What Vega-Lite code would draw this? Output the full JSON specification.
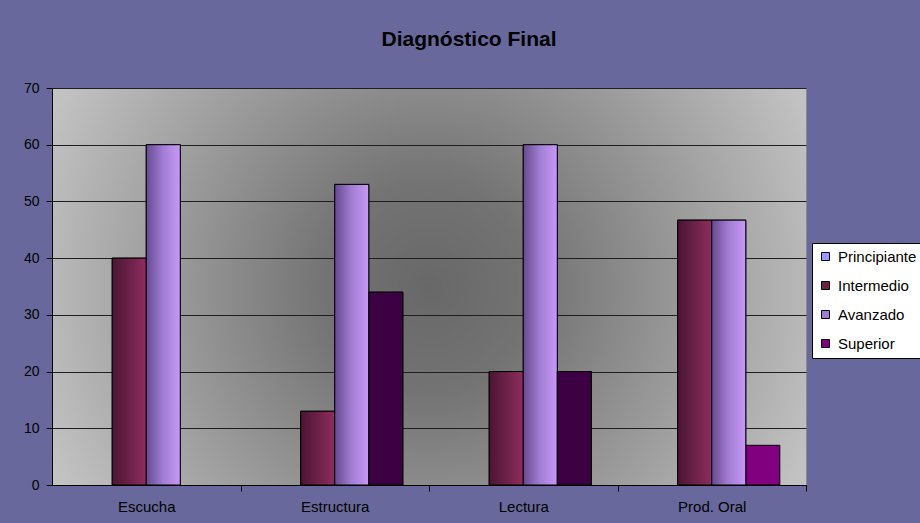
{
  "$schema": "https://vega.github.io/schema/vega-lite/v6.json",
  "width": 754,
  "height": 397,
  "autosize": {"type": "none"},
  "padding": {"left": 52, "top": 88, "right": 114, "bottom": 38},
  "background": "#68689C",
  "title": {
    "text": "Diagnóstico Final",
    "font": "Liberation Sans",
    "fontSize": 21,
    "fontWeight": "bold",
    "color": "#000000",
    "anchor": "middle",
    "frame": "group",
    "dx": 40,
    "offset": 31
  },
  "data": {
    "values": [
      {"area": "Escucha", "nivel": "Principiante", "valor": 0},
      {"area": "Escucha", "nivel": "Intermedio", "valor": 40},
      {"area": "Escucha", "nivel": "Avanzado", "valor": 60},
      {"area": "Escucha", "nivel": "Superior", "valor": 0},
      {"area": "Estructura", "nivel": "Principiante", "valor": 0},
      {"area": "Estructura", "nivel": "Intermedio", "valor": 13},
      {"area": "Estructura", "nivel": "Avanzado", "valor": 53},
      {"area": "Estructura", "nivel": "Superior", "valor": 34},
      {"area": "Lectura", "nivel": "Principiante", "valor": 0},
      {"area": "Lectura", "nivel": "Intermedio", "valor": 20},
      {"area": "Lectura", "nivel": "Avanzado", "valor": 60},
      {"area": "Lectura", "nivel": "Superior", "valor": 20},
      {"area": "Prod. Oral", "nivel": "Principiante", "valor": 0},
      {"area": "Prod. Oral", "nivel": "Intermedio", "valor": 46.7},
      {"area": "Prod. Oral", "nivel": "Avanzado", "valor": 46.7},
      {"area": "Prod. Oral", "nivel": "Superior", "valor": 7}
    ]
  },
  "encoding": {
    "x": {
      "field": "area",
      "type": "nominal",
      "sort": ["Escucha", "Estructura", "Lectura", "Prod. Oral"],
      "scale": {"paddingInner": 0, "paddingOuter": 0},
      "axis": {
        "title": null,
        "labelAngle": 0,
        "labelFont": "Liberation Sans",
        "labelFontSize": 15,
        "labelColor": "#000000",
        "labelPadding": 8,
        "labelOffset": -94.25,
        "tickColor": "#000000",
        "tickSize": 6,
        "tickOffset": 94.25,
        "domainColor": "#000000",
        "grid": false
      }
    },
    "xOffset": {
      "field": "nivel",
      "type": "nominal",
      "scale": {
        "domain": ["Principiante", "Intermedio", "Avanzado", "Superior"],
        "paddingInner": 0,
        "paddingOuter": 0.77
      }
    },
    "y": {
      "field": "valor",
      "type": "quantitative",
      "scale": {"domain": [0, 70], "nice": false},
      "axis": {
        "title": null,
        "values": [0, 10, 20, 30, 40, 50, 60, 70],
        "labelFont": "Liberation Sans",
        "labelFontSize": 14,
        "labelColor": "#000000",
        "labelPadding": 7,
        "tickColor": "#000000",
        "tickSize": 6,
        "domainColor": "#000000",
        "grid": true,
        "gridColor": "#1e1e1e",
        "gridWidth": 1
      }
    }
  },
  "layer": [
    {
      "transform": [{"filter": "datum.valor > 0"}],
      "mark": {"type": "bar", "stroke": "#000000", "strokeWidth": 1},
      "encoding": {
        "color": {
          "field": "nivel",
          "type": "nominal",
          "scale": {
            "domain": ["Principiante", "Intermedio", "Avanzado", "Superior"],
            "range": ["#9999FF", "#6E2246", "#A07CD2", "#800080"]
          },
          "legend": {
            "orient": "none",
            "legendX": 760,
            "legendY": 155,
            "title": null,
            "fillColor": "#FFFFFF",
            "strokeColor": "#000000",
            "padding": 6,
            "rowPadding": 13,
            "labelFont": "Liberation Sans",
            "labelFontSize": 15,
            "labelColor": "#000000",
            "labelOffset": 5,
            "symbolType": "square",
            "symbolSize": 64,
            "symbolStrokeColor": "#000000",
            "symbolStrokeWidth": 1,
            "symbolOpacity": 1
          }
        }
      }
    },
    {
      "transform": [{"filter": "datum.nivel == 'Intermedio' && datum.valor > 0"}],
      "mark": {
        "type": "bar",
        "stroke": "#000000",
        "strokeWidth": 1,
        "fill": {
          "gradient": "linear",
          "x1": 0, "y1": 0, "x2": 1, "y2": 0,
          "stops": [
            {"offset": 0, "color": "#4A1632"},
            {"offset": 0.5, "color": "#6B2148"},
            {"offset": 1, "color": "#8F2D5E"}
          ]
        }
      }
    },
    {
      "transform": [{"filter": "datum.nivel == 'Avanzado' && datum.valor > 0"}],
      "mark": {
        "type": "bar",
        "stroke": "#000000",
        "strokeWidth": 1,
        "fill": {
          "gradient": "linear",
          "x1": 0, "y1": 0, "x2": 1, "y2": 0,
          "stops": [
            {"offset": 0, "color": "#664A90"},
            {"offset": 0.5, "color": "#A27ED4"},
            {"offset": 1, "color": "#C898F8"}
          ]
        }
      }
    },
    {
      "transform": [{"filter": "datum.nivel == 'Superior' && datum.area != 'Prod. Oral' && datum.valor > 0"}],
      "mark": {"type": "bar", "stroke": "#000000", "strokeWidth": 1, "fill": "#3D0042"}
    }
  ],
  "config": {
    "view": {
      "stroke": "#8A8A8A",
      "fill": {
        "gradient": "radial",
        "x1": 0.5, "y1": 0.5, "r1": 0,
        "x2": 0.5, "y2": 0.5, "r2": 0.55,
        "stops": [
          {"offset": 0, "color": "#686868"},
          {"offset": 0.25, "color": "#737373"},
          {"offset": 1, "color": "#C2C2C2"}
        ]
      }
    }
  }
}
